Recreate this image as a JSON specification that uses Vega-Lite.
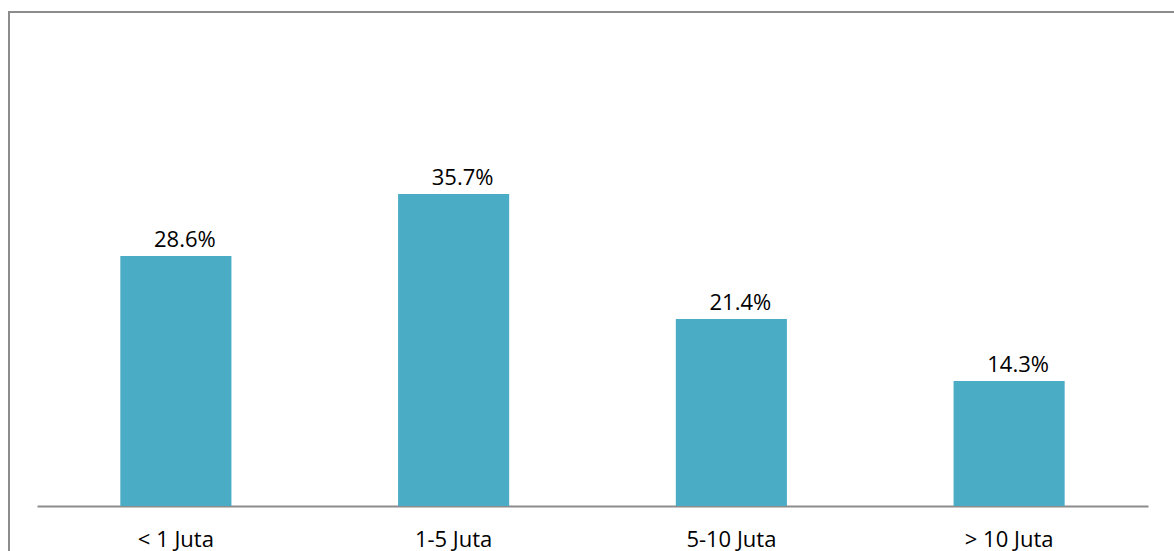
{
  "$schema": "https://vega.github.io/schema/vega-lite/v6.json",
  "autosize": {"type": "none"},
  "width": 1171,
  "height": 545,
  "padding": {"left": 9, "top": 12, "right": -6, "bottom": -6},
  "background": "#ffffff",
  "config": {
    "view": {"stroke": "#8c8c8c", "strokeWidth": 2},
    "font": "Open Sans"
  },
  "data": {
    "values": [
      {"kategori": "< 1 Juta", "persen": 0.286},
      {"kategori": "1-5 Juta", "persen": 0.357},
      {"kategori": "5-10 Juta", "persen": 0.214},
      {"kategori": "> 10 Juta", "persen": 0.143}
    ]
  },
  "encoding": {
    "x": {
      "field": "kategori",
      "type": "nominal",
      "sort": null,
      "scale": {"range": [28, 1139], "paddingInner": 0.6, "paddingOuter": 0.3},
      "axis": {
        "title": null,
        "offset": -51,
        "labelAngle": 0,
        "ticks": false,
        "domainColor": "#8c8c8c",
        "domainWidth": 2,
        "labelFont": "Open Sans",
        "labelFontSize": 22,
        "labelColor": "#000000",
        "labelPadding": 23
      }
    },
    "y": {
      "field": "persen",
      "type": "quantitative",
      "scale": {"domain": [0, 0.5], "range": [494, 57], "nice": false},
      "axis": null
    }
  },
  "layer": [
    {"mark": {"type": "bar", "color": "#4BACC6"}},
    {
      "mark": {
        "type": "text",
        "baseline": "alphabetic",
        "align": "center",
        "dy": -9,
        "dx": 9,
        "fontSize": 22,
        "font": "Open Sans",
        "color": "#000000"
      },
      "encoding": {"text": {"field": "persen", "type": "quantitative", "format": ".1%"}}
    }
  ]
}
